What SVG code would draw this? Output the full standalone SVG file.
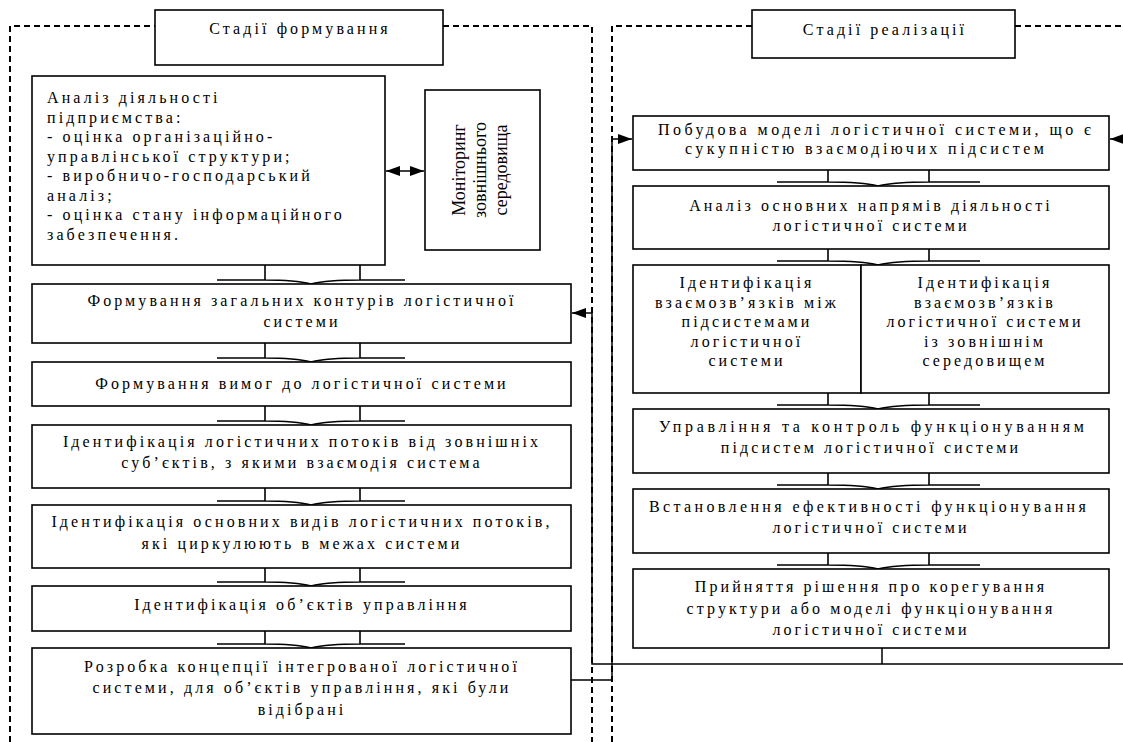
<svg xmlns="http://www.w3.org/2000/svg" width="1123" height="742" viewBox="0 0 1123 742">
<defs>
<style>
.box{fill:#fff;stroke:#000;stroke-width:1.6}
.t{font-family:"Liberation Serif","Times New Roman",serif;font-size:16px;letter-spacing:3.1px;fill:#000}
.c{text-anchor:middle}
.m{font-family:"Liberation Serif","Times New Roman",serif;font-size:18px;fill:#000;text-anchor:middle}
.dash{fill:none;stroke:#000;stroke-width:2;stroke-dasharray:6 4}
.ln{fill:none;stroke:#000;stroke-width:1.5}
.br{fill:none;stroke:#000;stroke-width:1.6}
</style>
<marker id="ah" viewBox="0 0 14 10" refX="14" refY="5" markerWidth="14" markerHeight="10" markerUnits="userSpaceOnUse" orient="auto-start-reverse">
<path d="M0,0 L14,5 L0,10 Z" fill="#000"/>
</marker>
</defs>

<g id="frames">
<path class="dash" d="M10,742 V26 H155 M443,26 H592 V742"/>
<path class="dash" d="M612,742 V26 H752 M1015,26 H1123"/>
</g>

<g id="header-left">
<rect class="box" x="155" y="10" width="288" height="55"/>
<text class="t c" x="300" y="34">Стадії формування</text>
</g>
<g id="header-right">
<rect class="box" x="752" y="10" width="263" height="48"/>
<text class="t c" x="885" y="35">Стадії реалізації</text>
</g>

<g id="connectors">
<path class="br" d="M265,265 V280 M360,265 V280 M217,280 H265 Q295,280 311,284 Q327,280 360,280 H405"/>
<path class="br" d="M265,343 V358 M360,343 V358 M217,358 H265 Q295,358 311,362 Q327,358 360,358 H405"/>
<path class="br" d="M265,406 V421 M360,406 V421 M217,421 H265 Q295,421 311,425 Q327,421 360,421 H405"/>
<path class="br" d="M265,488 V501 M360,488 V501 M217,501 H265 Q295,501 311,505 Q327,501 360,501 H405"/>
<path class="br" d="M265,568 V582 M360,568 V582 M217,582 H265 Q295,582 311,586 Q327,582 360,582 H405"/>
<path class="br" d="M265,631 V644 M360,631 V644 M217,644 H265 Q295,644 311,648 Q327,644 360,644 H405"/>
<path class="br" d="M828,170 V182 M929,170 V182 M777,182 H828 Q862,182 878,186 Q895,182 929,182 H980"/>
<path class="br" d="M828,249 V261 M929,249 V261 M777,261 H828 Q862,261 878,265 Q895,261 929,261 H980"/>
<path class="br" d="M828,393 V405 M929,393 V405 M777,405 H828 Q862,405 878,409 Q895,405 929,405 H980"/>
<path class="br" d="M828,473 V485 M929,473 V485 M777,485 H828 Q862,485 878,489 Q895,485 929,485 H980"/>
<path class="br" d="M828,553 V565 M929,553 V565 M777,565 H828 Q862,565 878,569 Q895,565 929,565 H980"/>
<path class="ln" d="M386,171 H424" marker-start="url(#ah)" marker-end="url(#ah)"/>
<path class="ln" d="M882,648 V664 M1123,664 H592 V313 H572" marker-end="url(#ah)"/>
<path class="ln" d="M571,680 H612 V139 H632" marker-end="url(#ah)"/>
<path class="ln" d="M1123,139 H1110" marker-end="url(#ah)"/>
</g>

<g id="box-analiz">
<rect class="box" x="32" y="76" width="353" height="189"/>
<text class="t" x="47" y="103">Аналіз діяльності</text>
<text class="t" x="47" y="122.5">підприємства:</text>
<text class="t" x="47" y="142">- оцінка організаційно-</text>
<text class="t" x="47" y="161.5">управлінської структури;</text>
<text class="t" x="47" y="181">- виробничо-господарський</text>
<text class="t" x="47" y="200.5">аналіз;</text>
<text class="t" x="47" y="220">- оцінка стану інформаційного</text>
<text class="t" x="47" y="239.5">забезпечення.</text>
</g>

<g id="box-monitoring">
<rect class="box" x="425" y="90" width="115" height="160"/>
<text class="m" transform="translate(465,170) rotate(-90)">Моніторинг</text>
<text class="m" transform="translate(486,170) rotate(-90)">зовнішнього</text>
<text class="m" transform="translate(507,170) rotate(-90)">середовища</text>
</g>

<g id="box-kontury">
<rect class="box" x="32" y="284" width="539" height="59"/>
<text class="t c" x="302" y="306">Формування загальних контурів логістичної</text>
<text class="t c" x="302" y="327">системи</text>
</g>

<g id="box-vymogy">
<rect class="box" x="32" y="362" width="539" height="44"/>
<text class="t c" x="302" y="389">Формування вимог до логістичної системи</text>
</g>

<g id="box-potoky-zovn">
<rect class="box" x="32" y="425" width="539" height="63"/>
<text class="t c" x="302" y="447">Ідентифікація логістичних потоків від зовнішніх</text>
<text class="t c" x="302" y="468">суб’єктів, з якими взаємодія система</text>
</g>

<g id="box-vydy-potokiv">
<rect class="box" x="32" y="505" width="539" height="63"/>
<text class="t c" x="302" y="527">Ідентифікація основних видів логістичних потоків,</text>
<text class="t c" x="302" y="549">які циркулюють в межах системи</text>
</g>

<g id="box-obiekty">
<rect class="box" x="32" y="586" width="539" height="45"/>
<text class="t c" x="302" y="610">Ідентифікація об’єктів управління</text>
</g>

<g id="box-kontseptsiia">
<rect class="box" x="32" y="648" width="539" height="86"/>
<text class="t c" x="302" y="672">Розробка концепції інтегрованої логістичної</text>
<text class="t c" x="302" y="693">системи, для об’єктів управління, які були</text>
<text class="t c" x="302" y="715">відібрані</text>
</g>

<g id="box-pobudova">
<rect class="box" x="633" y="116" width="476" height="54"/>
<text class="t c" x="876" y="135" textLength="436" lengthAdjust="spacing">Побудова моделі логістичної системи, що є</text>
<text class="t c" x="866" y="154" textLength="362" lengthAdjust="spacing">сукупністю взаємодіючих підсистем</text>
</g>

<g id="box-napriamy">
<rect class="box" x="633" y="186" width="476" height="63"/>
<text class="t c" x="871" y="211">Аналіз основних напрямів діяльності</text>
<text class="t c" x="871" y="231">логістичної системи</text>
</g>

<g id="box-vzaiemozv-pidsystem">
<rect class="box" x="633" y="265" width="228" height="128"/>
<text class="t c" x="747" y="288">Ідентифікація</text>
<text class="t c" x="747" y="308">взаємозв’язків між</text>
<text class="t c" x="747" y="327">підсистемами</text>
<text class="t c" x="747" y="347">логістичної</text>
<text class="t c" x="747" y="366">системи</text>
</g>

<g id="box-vzaiemozv-seredovyshche">
<rect class="box" x="861" y="265" width="248" height="128"/>
<text class="t c" x="985" y="288">Ідентифікація</text>
<text class="t c" x="985" y="308">взаємозв’язків</text>
<text class="t c" x="985" y="327">логістичної системи</text>
<text class="t c" x="985" y="347">із зовнішнім</text>
<text class="t c" x="985" y="366">середовищем</text>
</g>

<g id="box-upravlinnia">
<rect class="box" x="633" y="409" width="476" height="64"/>
<text class="t c" x="873" y="432" textLength="428" lengthAdjust="spacing">Управління та контроль функціонуванням</text>
<text class="t c" x="871" y="453">підсистем логістичної системи</text>
</g>

<g id="box-efektyvnist">
<rect class="box" x="633" y="489" width="476" height="64"/>
<text class="t c" x="869" y="512" textLength="440" lengthAdjust="spacing">Встановлення ефективності функціонування</text>
<text class="t c" x="871" y="533">логістичної системи</text>
</g>

<g id="box-rishennia">
<rect class="box" x="633" y="569" width="476" height="79"/>
<text class="t c" x="871" y="592">Прийняття рішення про корегування</text>
<text class="t c" x="871" y="614">структури або моделі функціонування</text>
<text class="t c" x="871" y="635">логістичної системи</text>
</g>
</svg>
